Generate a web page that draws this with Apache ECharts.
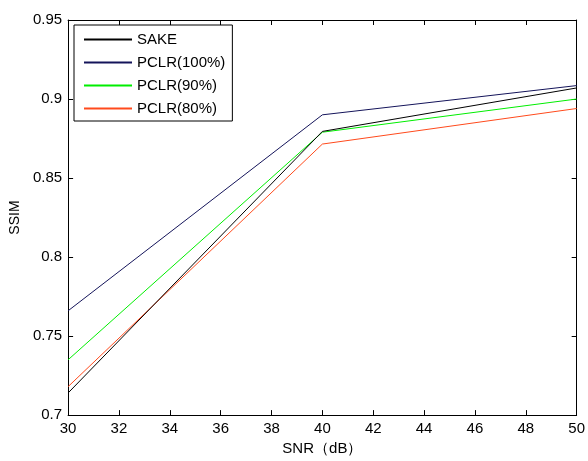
<!DOCTYPE html>
<html><head><meta charset="utf-8">
<script src="https://cdn.jsdelivr.net/npm/echarts@6/dist/echarts.min.js"></script>
<style>html,body{margin:0;padding:0;background:#fff}#c{width:588px;height:461px}</style>
</head><body><div id="c"></div>
<script>
var snr = [30, 40, 50];
var sake = [0.714, 0.8795, 0.907];
var pclr100 = [0.766, 0.890, 0.9085];
var pclr90 = [0.735, 0.879, 0.900];
var pclr80 = [0.718, 0.8715, 0.894];
var seriesNames = ['SAKE', 'PCLR(100%)', 'PCLR(90%)', 'PCLR(80%)'];
var colors = ['#000000', '#14145a', '#00ee00', '#ff4a1c'];
var allData = [sake, pclr100, pclr90, pclr80];

var font = 'Liberation Sans, Arial, sans-serif';
function pairs(ys){ return snr.map(function(x,i){ return [x, ys[i]]; }); }
var chart = echarts.init(document.getElementById('c'), null, {renderer:'canvas'});
var axisCommon = {
  axisLine:{show:true, onZero:false, lineStyle:{color:'#000', width:1}},
  axisTick:{show:true, inside:true, length:5, lineStyle:{color:'#000'}},
  splitLine:{show:false}
};
chart.setOption({
  animation:false,
  grid:{left:68, right:9, top:20, bottom:39, containLabel:false},
  legend:{
    data: seriesNames, orient:'vertical', left:74, top:25,
    borderColor:'#000', borderWidth:1, backgroundColor:'#fff',
    padding:[7,7,5,9], itemWidth:48, itemHeight:14, itemGap:8,
    itemStyle:{opacity:0},
    textStyle:{fontFamily:font, fontSize:15, color:'#000', padding:[0,0,0,0]}
  },
  xAxis:[
    Object.assign({type:'value', min:30, max:50, interval:2,
      name:'SNR（dB）', nameLocation:'middle', nameGap:24,
      nameTextStyle:{fontFamily:font, fontSize:15, color:'#000'},
      axisLabel:{fontFamily:font, fontSize:15, color:'#000', margin:6}}, axisCommon),
    Object.assign({type:'value', min:30, max:50, interval:2, position:'top',
      axisLabel:{show:false}}, axisCommon)
  ],
  yAxis:[
    Object.assign({type:'value', min:0.7, max:0.95, interval:0.05,
      name:'SSIM', nameLocation:'middle', nameGap:44,
      nameTextStyle:{fontFamily:font, fontSize:14, color:'#000'},
      axisLabel:{fontFamily:font, fontSize:15, color:'#000', margin:6,
        formatter:function(v){ return String(+v.toFixed(2)); }}}, axisCommon),
    Object.assign({type:'value', min:0.7, max:0.95, interval:0.05, position:'right',
      axisLabel:{show:false}}, axisCommon)
  ],
  series: seriesNames.map(function(n,i){
    return {name:n, type:'line', data:pairs(allData[i]), symbol:'circle', showSymbol:false,
      color:colors[i], lineStyle:{width:1, color:colors[i]}, z: 10-i};
  })
});
</script></body></html>
